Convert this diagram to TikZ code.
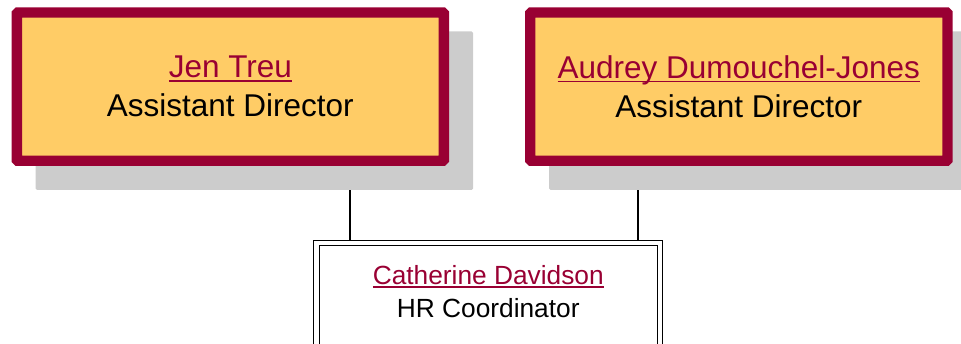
\documentclass[tikz,border=0pt]{standalone}
\usepackage{fontspec}
\setmainfont{Liberation Sans}
\usetikzlibrary{backgrounds}
\definecolor{maroon}{HTML}{990033}
\definecolor{gold}{HTML}{FFCC66}
\definecolor{shade}{HTML}{CCCCCC}
\newcommand{\nameul}[3]{\setbox0=\hbox{\textcolor{maroon}{#1}}\rlap{\textcolor{maroon}{\rule[#2]{\wd0}{#3}}}\box0}
\begin{document}
\begin{tikzpicture}[x=1pt,y=1pt,
  topbox/.style={draw=maroon, line width=10.3pt, fill=gold, rounded corners=1pt, align=center,
    font=\fontsize{31.5}{39}\selectfont, inner sep=0pt, outer sep=0pt, minimum height=148.4pt},
  hrbox/.style={draw=black, line width=1.3pt, double=white, double distance=4.3pt, outer sep=0pt,
    inner sep=0pt, anchor=north},
  hrtext/.style={font=\fontsize{26.3}{33}\selectfont, align=center, inner sep=0pt},
  conn/.style={draw=black, line width=1.3pt},
  shadowbox/.style={fill=shade, rounded corners=1.5pt}]
\useasboundingbox (0,0) rectangle (961,-344);
\node[topbox, minimum width=427pt] (jen) at (230.35,-86.65) {\nameul{Jen Treu}{-4pt}{1.8pt}\\Assistant Director};
\node[topbox, minimum width=417.4pt] (audrey) at (738.85,-86.65) {\nameul{Audrey Dumouchel-Jones}{-4pt}{1.8pt}\\Assistant Director};
\node[hrbox, minimum width=343.5pt, minimum height=130pt] (cat) at (488.25,-243) {};
\node[hrtext] (cattxt) at (488.25,-292) {\nameul{Catherine Davidson}{-3pt}{1.4pt}\\HR Coordinator};
\coordinate (l1) at (350,0);
\coordinate (l2) at (638,0);
\begin{scope}[on background layer]
  \draw[conn] (jen.south -| l1) -- (cat.north -| l1);
  \draw[conn] (audrey.south -| l2) -- (cat.north -| l2);
  \fill[shadowbox] ([shift={(18.85pt,-18.85pt)}]jen.north west) rectangle ([shift={(29.15pt,-29.15pt)}]jen.south east);
  \fill[shadowbox] ([shift={(18.85pt,-18.85pt)}]audrey.north west) rectangle ([shift={(29.15pt,-29.15pt)}]audrey.south east);
\end{scope}
\end{tikzpicture}
\end{document}
